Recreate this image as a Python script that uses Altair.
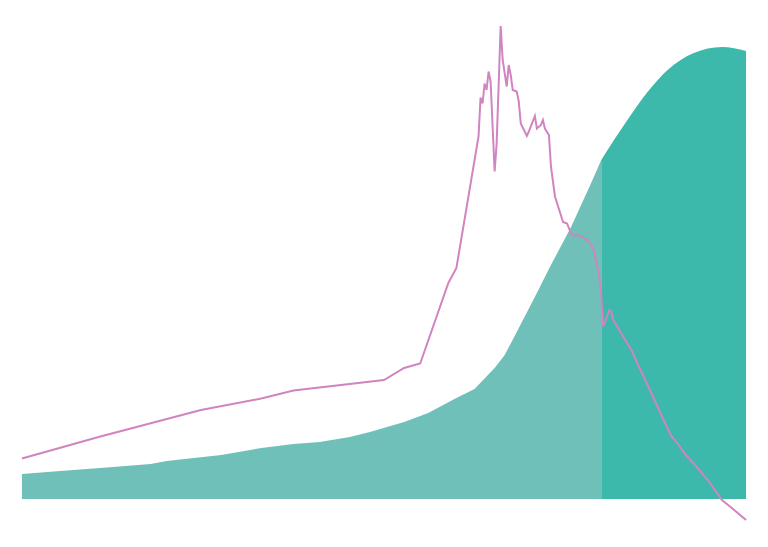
import altair as alt
import pandas as pd

# pink line: day number and value
line_days = [0, 39, 89, 119, 135, 180, 190, 198, 212, 216, 227, 228, 229, 230, 231, 232,
             233, 235, 236, 238, 239, 241, 242, 243, 244, 246, 247, 248, 251, 252, 255,
             256, 258, 259, 260, 262, 263, 265, 269, 271, 273, 275, 277, 279, 281, 284,
             286, 287, 288, 289, 290, 292, 293, 294, 298, 301, 303, 306, 313, 319, 323,
             326, 330, 334, 341, 348, 352, 360]
line_vals = [123, 167, 220, 243, 259, 280, 304, 313, 474, 504, 767, 845, 833, 873, 860, 897,
             877, 697, 753, 988, 920, 867, 910, 890, 860, 857, 837, 793, 768, 777, 808,
             783, 790, 800, 783, 770, 707, 647, 596, 593, 573, 568, 570, 565, 560, 543,
             507, 487, 447, 387, 397, 420, 417, 400, 373, 353, 340, 313, 253, 200, 167,
             153, 130, 113, 80, 40, 27, 0]

# teal area: day number and value
area_days = [0, 19, 39, 64, 72, 99, 119, 135, 148, 163, 173, 190, 202, 215, 225, 235,
             240, 246, 256, 263, 273, 283, 288, 301, 311, 321, 334, 348, 360]
area_vals = [5.0, 5.6, 6.2, 7.0, 7.6, 8.8, 10.2, 11.0, 11.4, 12.4, 13.4, 15.4, 17.2, 20.0,
             22.0, 26.2, 28.8, 33.4, 41.2, 46.8, 54.4, 63.2, 67.8, 75.8, 81.4, 85.8, 89.2,
             90.4, 89.6]
split_day = 288

area_df = pd.DataFrame({"day": area_days, "value": area_vals})
before = area_df[area_df["day"] <= split_day]
after = area_df[area_df["day"] >= split_day]
line_df = pd.DataFrame({"day": line_days, "value": line_vals})

x = alt.X("day:Q", axis=None, scale=alt.Scale(domain=[0, 360], nice=False, zero=False))
y_area = alt.Y("value:Q", axis=None, scale=alt.Scale(domain=[-4.2, 95.8], nice=False, zero=False))

area_before = alt.Chart(before).mark_area(color="#6fc0b8", opacity=1).encode(
    x=x, y=y_area, y2=alt.datum(0)
)
area_after = alt.Chart(after).mark_area(color="#3cb9aa", opacity=1, interpolate="monotone").encode(
    x=x, y=y_area, y2=alt.datum(0)
)
areas = alt.layer(area_before, area_after)

line = alt.Chart(line_df).mark_line(color="#d084c0", strokeWidth=2).encode(
    x=x,
    y=alt.Y("value:Q", axis=None, scale=alt.Scale(domain=[0, 1000], nice=False, zero=False)),
)

chart = alt.layer(areas, line).resolve_scale(y="independent").properties(
    width=727,
    height=502,
    padding={"left": 10, "top": 11, "right": 10, "bottom": 5},
).configure_view(stroke=None)

chart.save("out.html", embed_options={"renderer": "svg", "actions": False})
